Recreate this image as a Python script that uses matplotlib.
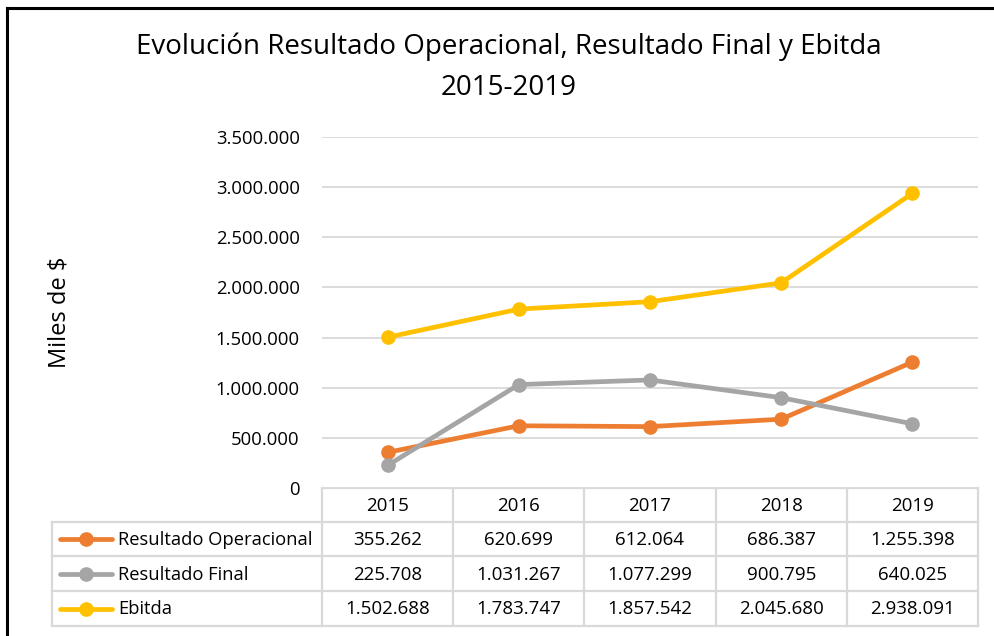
import matplotlib
matplotlib.use("Agg")
import matplotlib.pyplot as plt
from matplotlib.ticker import FuncFormatter

years = ["2015", "2016", "2017", "2018", "2019"]
series_names = ["Resultado Operacional", "Resultado Final", "Ebitda"]
res_operacional = [355262, 620699, 612064, 686387, 1255398]
res_final = [225708, 1031267, 1077299, 900795, 640025]
ebitda = [1502688, 1783747, 1857542, 2045680, 2938091]
y_ticks = [0, 500000, 1000000, 1500000, 2000000, 2500000, 3000000, 3500000]
colors = ["#ED7D31", "#A5A5A5", "#FFC000"]
series = [res_operacional, res_final, ebitda]

plt.rcParams["font.family"] = ["Open Sans", "DejaVu Sans"]

W, H = 995, 636
fig = plt.figure(figsize=(W / 100, H / 100), dpi=100)

def fx(px):
    return px / W

def fy(py):
    return 1 - py / H

# plot area
L, R, T, B = 322, 978, 137, 488
ax = fig.add_axes([fx(L), fy(B), fx(R - L), fy(T) - fy(B)])
x = list(range(len(years)))
for vals, c in zip(series, colors):
    ax.plot(x, vals, color=c, lw=3.4, marker="o", ms=9.5, solid_capstyle="round", zorder=3)
ax.set_xlim(-0.5, len(years) - 0.5)
ax.set_ylim(0, 3500000)
ax.set_yticks(y_ticks)
ax.yaxis.set_major_formatter(FuncFormatter(lambda v, p: f"{int(v):,}".replace(",", ".")))
ax.tick_params(axis="y", length=0, pad=16, labelsize=13.3, labelcolor="#000000")
ax.set_xticks([])
ax.grid(axis="y", color="#d9d9d9", lw=1.3)
for s in ax.spines.values():
    s.set_visible(False)
ax.set_axisbelow(True)

# overlay in pixel coordinates
ov = fig.add_axes([0, 0, 1, 1], zorder=-1)
ov.set_xlim(0, W)
ov.set_ylim(H, 0)
ov.axis("off")

# border (left/top)
ov.plot([7, 7], [8, H], color="black", lw=2.2)
ov.plot([7, W], [8, 8], color="black", lw=2.2)

# title
fig.text(fx(509), fy(47), "Evolución Resultado Operacional, Resultado Final y Ebitda",
         ha="center", va="center", fontsize=20)
fig.text(fx(509), fy(88), "2015-2019", ha="center", va="center", fontsize=20)
fig.text(fx(60), fy(312), "Miles de $", rotation=90, ha="center", va="center", fontsize=17)

# data table
gc = "#d9d9d9"
glw = 1.6
cw = (R - L) / len(years)
col_edges = [L + i * cw for i in range(len(years) + 1)]
row_edges = [488, 522, 556, 591, 626]
label_left = 52
ov.plot([L, R], [row_edges[0], row_edges[0]], color=gc, lw=glw)
for e in col_edges:
    ov.plot([e, e], [row_edges[0], row_edges[-1]], color=gc, lw=glw)
for r in row_edges[1:]:
    ov.plot([label_left, R], [r, r], color=gc, lw=glw)
ov.plot([label_left, label_left], [row_edges[1], row_edges[-1]], color=gc, lw=glw)

fs = 13.5
for i, yr in enumerate(years):
    ov.text((col_edges[i] + col_edges[i + 1]) / 2, (row_edges[0] + row_edges[1]) / 2 + 1, yr,
            ha="center", va="center", fontsize=fs)
for j, (name, vals, c) in enumerate(zip(series_names, series, colors)):
    yc = (row_edges[j + 1] + row_edges[j + 2]) / 2 + 1
    ov.plot([60, 112], [yc - 1, yc - 1], color=c, lw=3.4, solid_capstyle="round")
    ov.plot([86], [yc - 1], marker="o", ms=9.5, color=c)
    ov.text(118, yc, name, ha="left", va="center", fontsize=13.2)
    for i, v in enumerate(vals):
        ov.text((col_edges[i] + col_edges[i + 1]) / 2, yc, f"{v:,}".replace(",", "."),
                ha="center", va="center", fontsize=fs)

fig.savefig("out.png", dpi=100)
